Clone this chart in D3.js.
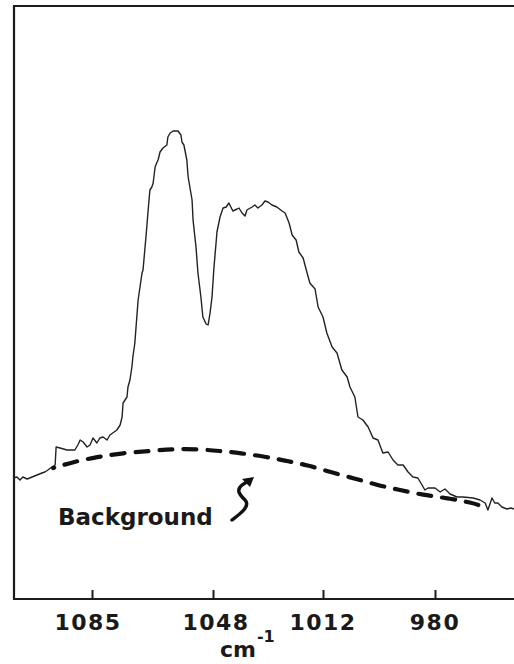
<!DOCTYPE html>
<html>
<head>
<meta charset="utf-8">
<script src="https://cdn.jsdelivr.net/npm/d3@7"></script>
<style>
  body { margin: 0; background: #fff; }
  svg { display: block; }
  .frame { stroke: #1c1c1c; stroke-width: 2.2; fill: none; }
  .spectrum { fill: none; stroke: #222; stroke-width: 1.4; stroke-linejoin: round; }
  .background { fill: none; stroke: #111; stroke-width: 4.2; stroke-dasharray: 13,11; stroke-linecap: round; }
  .tick line { stroke: #1c1c1c; stroke-width: 2; }
  .lbl { font-family: "DejaVu Sans", sans-serif; font-weight: bold; fill: #1a1a1a; }
</style>
</head>
<body>
<script>
// wavenumber (cm-1) of each point along the measured trace
var specWave = [1109.0, 1107.8, 1106.9, 1106.0, 1104.7, 1103.2, 1101.7, 1100.2, 1099.3, 1098.4,
  1097.2, 1096.2, 1095.9, 1094.7, 1092.6, 1090.2, 1089.3, 1088.6, 1087.7, 1086.5,
  1085.6, 1084.7, 1083.5, 1082.6, 1081.6, 1080.4, 1079.5, 1077.4, 1076.4, 1075.8,
  1075.5, 1074.3, 1074.0, 1073.4, 1072.8, 1072.5, 1071.9, 1070.9, 1069.7, 1069.4,
  1068.5, 1067.9, 1067.3, 1066.7, 1066.3, 1065.7, 1065.1, 1064.8, 1064.2, 1063.3,
  1062.1, 1061.8, 1061.1, 1060.2, 1058.7, 1057.8, 1057.5, 1056.9, 1056.0, 1055.6,
  1054.4, 1054.1, 1053.2, 1052.6, 1051.7, 1051.1, 1050.1, 1049.5, 1048.9, 1048.3,
  1047.7, 1047.0, 1046.7, 1045.7, 1044.7, 1043.7, 1042.8, 1041.5, 1040.1, 1039.5,
  1038.5, 1037.5, 1036.9, 1035.2, 1034.3, 1033.3, 1032.0, 1031.0, 1030.0, 1028.7,
  1027.1, 1025.4, 1024.4, 1023.1, 1022.1, 1020.8, 1019.9, 1018.5, 1017.2, 1016.3,
  1014.6, 1013.6, 1012.0, 1010.9, 1009.4, 1008.0, 1006.6, 1005.1, 1004.3, 1002.9,
  1002.0, 1000.6, 999.1, 997.7, 996.3, 994.9, 993.4, 992.0, 990.6, 989.1,
  987.7, 986.3, 984.9, 983.7, 982.9, 982.0, 980.0, 978.5, 977.1, 975.6,
  973.6, 971.8, 968.9, 966.9, 965.4, 964.6, 963.4, 962.6, 961.7, 960.5,
  959.1, 957.9, 957.0];

// intensity (arbitrary units) at the same points
var specInt = [24.2, 24.4, 23.8, 24.4, 24.0, 24.4, 24.8, 25.2, 25.4, 25.8,
  26.4, 26.8, 30.4, 30.2, 29.8, 29.8, 30.8, 31.8, 31.4, 30.4,
  30.8, 32.2, 31.2, 32.2, 32.4, 31.8, 32.8, 33.8, 34.8, 36.4,
  39.2, 40.4, 42.4, 43.8, 46.4, 48.4, 51.2, 59.8, 65.2, 65.8,
  72.4, 77.2, 81.8, 82.4, 83.2, 86.4, 87.4, 87.8, 89.4, 90.2,
  90.8, 92.4, 93.2, 93.6, 93.6, 92.8, 91.4, 90.8, 87.8, 84.4,
  79.8, 75.8, 70.4, 65.2, 60.4, 56.4, 55.0, 54.8, 57.2, 60.4,
  66.2, 71.2, 73.4, 76.4, 78.2, 78.4, 79.2, 77.6, 78.0, 78.2,
  77.2, 76.6, 77.8, 78.4, 78.8, 78.2, 78.8, 79.6, 79.4, 78.8,
  78.4, 77.6, 77.2, 75.2, 72.8, 71.8, 69.4, 68.2, 65.2, 63.2,
  62.0, 58.4, 56.4, 53.2, 50.4, 49.2, 45.8, 44.4, 42.4, 40.4,
  36.4, 35.8, 34.4, 32.2, 31.8, 29.2, 29.4, 27.8, 26.8, 26.8,
  25.4, 24.4, 24.2, 22.8, 21.8, 22.2, 22.2, 21.4, 22.0, 21.0,
  20.4, 20.4, 20.2, 19.8, 19.2, 17.8, 20.2, 19.2, 19.2, 18.4,
  18.0, 18.2, 18.0];

// dashed background estimate
var bgWave = [1096.8, 1090.8, 1083.5, 1075.5, 1067.3, 1060.2, 1052.9, 1045.7, 1039.2, 1030.3,
  1023.8, 1017.2, 1010.0, 1003.4, 996.6, 990.0, 983.4, 976.5, 968.9, 967.4];
var bgInt = [26.2, 27.4, 28.4, 29.2, 29.6, 30.0, 30.0, 29.6, 29.2, 28.4,
  27.6, 26.8, 25.4, 24.2, 22.8, 21.8, 20.8, 20.2, 19.2, 18.8];

var tickValues = [1085, 1048, 1012, 980];
var axisTitle = 'cm';
var axisTitleSup = '-1';
var bgLabel = 'Background';

var svgWidth = 514, svgHeight = 664;
var frameLeft = 14, frameTop = 6, frameBottom = 599;

var spectrum = specWave.map(function(w, i) { return { w: w, v: specInt[i] }; });
var background = bgWave.map(function(w, i) { return { w: w, v: bgInt[i] }; });

// the chart's tick marks are not evenly spaced, so use a piecewise scale
var xScale = d3.scaleLinear()
    .domain([1109, 1085, 1048, 1012, 980, 957])
    .range([13, 92, 213, 323, 435, 514]);

var yScale = d3.scaleLinear()
    .domain([0, 100])
    .range([frameBottom, frameBottom - 500]);

var svg = d3.select('body')
    .append('svg')
    .attr('width', svgWidth)
    .attr('height', svgHeight);

// frame: left, top and bottom edges (right edge is cut off)
svg.append('path')
    .attr('class', 'frame')
    .attr('d', 'M' + svgWidth + ',' + frameTop + 'H' + frameLeft + 'V' + frameBottom + 'H' + svgWidth);

var xAxis = d3.axisTop(xScale)
    .tickValues(tickValues)
    .tickSize(9)
    .tickFormat('');

svg.append('g')
    .attr('class', 'x axis')
    .attr('transform', 'translate(0,' + frameBottom + ')')
    .call(xAxis)
    .call(function(g) { g.select('.domain').remove(); });

svg.selectAll('.tickLabel')
    .data(tickValues)
    .enter()
    .append('text')
    .attr('class', 'lbl tickLabel')
    .attr('x', function(d) { return xScale(d) + (d === 1085 ? -4 : d === 1048 ? 3 : 0); })
    .attr('y', 630)
    .attr('text-anchor', 'middle')
    .style('font-size', '22px')
    .style('letter-spacing', '1.5px')
    .text(function(d) { return d; });

var title = svg.append('text')
    .attr('class', 'lbl')
    .attr('x', 220)
    .attr('y', 657)
    .style('font-size', '22px');
title.append('tspan').text(axisTitle);
title.append('tspan')
    .attr('dy', -15)
    .attr('dx', 1)
    .style('font-size', '16px')
    .text(axisTitleSup);

var line = d3.line()
    .x(function(d) { return xScale(d.w); })
    .y(function(d) { return yScale(d.v); });

svg.append('path')
    .datum(spectrum)
    .attr('class', 'spectrum')
    .attr('d', line);

var bgLine = d3.line()
    .curve(d3.curveBasis)
    .x(function(d) { return xScale(d.w); })
    .y(function(d) { return yScale(d.v); });

var bgPath = svg.append('path')
    .datum(background)
    .attr('class', 'background')
    .attr('d', bgLine);

// shift the dash pattern so the curve ends on a whole dash
var len = bgPath.node().getTotalLength();
bgPath.attr('stroke-dashoffset', ((13 - len) % 24 + 24) % 24);

// label + squiggly arrow pointing at the dashed curve
var lx = 58, ly = 525;
svg.append('text')
    .attr('class', 'lbl')
    .attr('x', lx)
    .attr('y', ly)
    .style('font-size', '23px')
    .text(bgLabel);

svg.append('path')
    .attr('d', 'M' + (lx + 174) + ',' + (ly - 5) +
        ' C' + (lx + 182) + ',' + (ly - 11) + ' ' + (lx + 193) + ',' + (ly - 19) + ' ' + (lx + 187) + ',' + (ly - 25) +
        ' C' + (lx + 181) + ',' + (ly - 31) + ' ' + (lx + 178) + ',' + (ly - 35) + ' ' + (lx + 184) + ',' + (ly - 40) +
        ' L' + (lx + 190) + ',' + (ly - 44))
    .attr('fill', 'none')
    .attr('stroke', '#111')
    .attr('stroke-width', 3.4)
    .attr('stroke-linecap', 'round');

svg.append('path')
    .attr('d', 'M' + (lx + 196) + ',' + (ly - 48) +
        ' L' + (lx + 184) + ',' + (ly - 46) +
        ' L' + (lx + 192) + ',' + (ly - 38) + 'Z')
    .attr('fill', '#111');
</script>
</body>
</html>
